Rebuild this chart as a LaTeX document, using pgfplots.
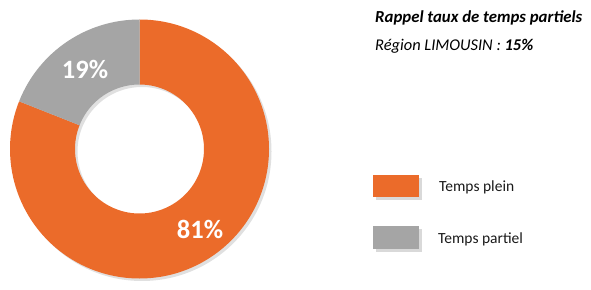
\documentclass[border=0pt]{standalone}
\usepackage{pgfplots}
\pgfplotsset{compat=1.18}
\usepackage{pgfplotstable}
\usepackage{fontspec}
\setmainfont{Carlito}
\definecolor{orangeC}{HTML}{EB6B2A}
\definecolor{grayC}{HTML}{A5A5A5}
\pgfplotstableread{
label value
plein 81
partiel 19
}\donutdata
\begin{document}
\begin{tikzpicture}
\pgfplotstablegetelem{0}{value}\of\donutdata \let\vA\pgfplotsretval
\pgfplotstablegetelem{1}{value}\of\donutdata \let\vB\pgfplotsretval
\pgfmathsetmacro{\aS}{90}
\pgfmathsetmacro{\aM}{90-3.6*\vA}
\pgfmathsetmacro{\aE}{\aM-3.6*\vB}
\pgfmathsetmacro{\mA}{(\aS+\aM)/2}
\pgfmathsetmacro{\mB}{(\aM+\aE)/2}
\begin{axis}[
  scale only axis, width=591pt, height=289pt,
  xmin=0, xmax=591, ymin=0, ymax=289,
  hide axis, clip=false,
]
\def\R{129.5}\def\r{64.5}
\coordinate (C) at (axis cs:139.5,140);
% shadow
\fill[black, opacity=0.12, even odd rule] ([xshift=2.5pt,yshift=-2.5pt]C) circle[radius=\R pt] ([xshift=2.5pt,yshift=-2.5pt]C) circle[radius=\r pt];
% sectors
\fill[orangeC] (C) ++(\aS:\R pt) arc[start angle=\aS, end angle=\aM, radius=\R pt] -- ++(\aM+180:\R pt-\r pt) arc[start angle=\aM, end angle=\aS, radius=\r pt] -- cycle;
\fill[grayC] (C) ++(\aM:\R pt) arc[start angle=\aM, end angle=\aE, radius=\R pt] -- ++(\aE+180:\R pt-\r pt) arc[start angle=\aE, end angle=\aM, radius=\r pt] -- cycle;
% labels
\path ([xshift=6pt,yshift=0pt]C) ++(\mA:97pt) node[text=white, inner sep=0pt, font=\bfseries\fontsize{26.5}{30}\selectfont] {\vA\%};
\path ([yshift=-1pt]C) ++(\mB:97pt) node[text=white, inner sep=0pt, font=\bfseries\fontsize{26.5}{30}\selectfont] {\vB\%};
% titles
\node[anchor=west, font=\bfseries\itshape\fontsize{16.8}{20}\selectfont, text=black, inner sep=0pt] at (axis cs:375,271) {Rappel taux de temps partiels};
\node[anchor=west, font=\itshape\fontsize{16.4}{20}\selectfont, text=black, inner sep=0pt] at (axis cs:375,243) {Région LIMOUSIN : \textbf{15\%}};
% legend
\fill[black, opacity=0.15] (axis cs:376,89) rectangle (axis cs:422,111);
\fill[orangeC] (axis cs:373,92) rectangle (axis cs:419,114);
\fill[black, opacity=0.15] (axis cs:376,37) rectangle (axis cs:422,60);
\fill[grayC] (axis cs:373,40) rectangle (axis cs:419,63);
\node[anchor=west, font=\fontsize{15.5}{18}\selectfont, text=black!90, inner sep=0pt] at (axis cs:439,102) {Temps plein};
\node[anchor=west, font=\fontsize{15.5}{18}\selectfont, text=black!90, inner sep=0pt] at (axis cs:438,50) {Temps partiel};
\end{axis}
\pgfresetboundingbox
\path[use as bounding box] (current axis.south west) rectangle (current axis.north east);
\end{tikzpicture}
\end{document}
